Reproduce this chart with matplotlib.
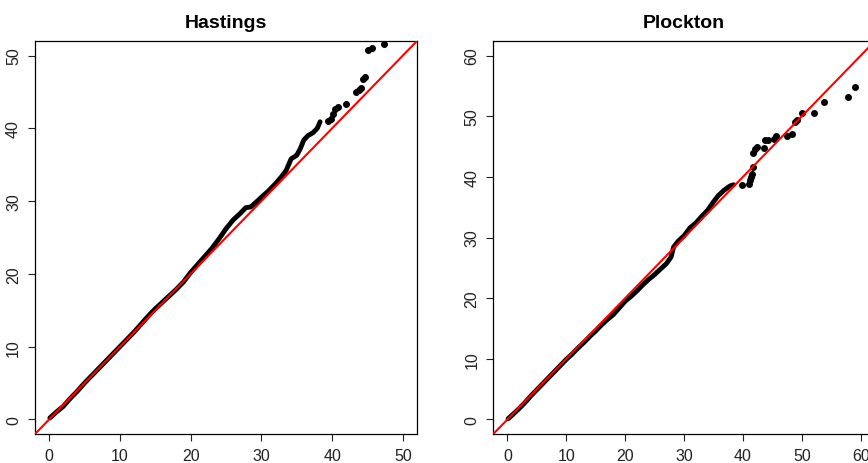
import matplotlib
matplotlib.use('Agg')
import matplotlib.pyplot as plt

plt.rcParams['font.family'] = ['Liberation Sans', 'DejaVu Sans']

#############################################################
# Quantile pairs (dense body of each plot, then the sparse upper tail)
#############################################################
hast_x = [0.1, 1, 2, 3, 4, 5, 6, 7, 8, 9, 10, 11, 12, 13, 14, 15, 16, 17, 18, 19,
          20, 21, 22, 23, 24, 25, 26, 27, 27.8, 28.5, 29.2, 30.2, 31, 32, 32.8,
          33.5, 34.2, 35.0, 35.5, 36.0, 36.6, 37.3, 37.9, 38.3]
hast_y = [0.2, 1.0, 1.8, 2.9, 3.9, 5.0, 6.0, 7.0, 8.0, 9.0, 10.0, 11.0, 12.0, 13.1,
          14.2, 15.2, 16.1, 17.0, 17.9, 18.9, 20.2, 21.3, 22.4, 23.5, 24.8, 26.2,
          27.4, 28.3, 29.1, 29.2, 29.8, 30.7, 31.4, 32.4, 33.3, 34.2, 35.8, 36.3,
          37.2, 38.4, 39.0, 39.4, 40.0, 40.9]
hast_tail_x = [39.4, 39.8, 40.1, 40.4, 40.8, 42.0, 43.4, 43.8, 44.1, 44.4, 44.6,
               45.1, 45.7, 47.3]
hast_tail_y = [41.0, 41.3, 42.0, 42.7, 43.0, 43.3, 45.0, 45.3, 45.6, 46.8, 47.1,
               50.7, 51.0, 51.6]

plock_x = [0.1, 1, 2, 3, 4, 5, 6, 7, 8, 9, 10, 11, 12, 13, 14, 15, 16, 17, 18, 19,
           20, 21, 22, 23, 24, 25, 26, 27, 27.8, 28.2, 29.0, 30.0, 31, 32, 33, 34,
           35, 35.8, 36.8, 37.8, 38.4]
plock_y = [0.1, 0.9, 1.8, 2.8, 3.9, 4.9, 5.9, 6.9, 7.9, 8.9, 9.9, 10.8, 11.8, 12.7,
           13.7, 14.6, 15.6, 16.5, 17.3, 18.4, 19.5, 20.3, 21.2, 22.2, 23.1, 23.9,
           24.8, 25.7, 26.8, 28.4, 29.4, 30.3, 31.6, 32.4, 33.5, 34.5, 35.9, 36.9,
           37.8, 38.5, 38.7]
plock_tail_x = [39.8, 41.0, 41.2, 41.4, 41.6, 41.7, 41.7, 42.0, 42.3, 43.5, 43.8,
                44.3, 45.3, 45.6, 47.4, 48.3, 48.8, 49.2, 50.0, 52.1, 53.7, 57.9, 59.0]
plock_tail_y = [38.7, 38.9, 39.4, 40.0, 40.5, 41.6, 44.0, 44.6, 44.9, 44.8, 46.0,
                46.0, 46.3, 46.8, 46.8, 47.1, 49.0, 49.4, 50.6, 50.6, 52.3, 53.1, 54.8]

titles = ['Hastings', 'Plockton']
ticks = [[0, 10, 20, 30, 40, 50], [0, 10, 20, 30, 40, 50, 60]]
limits = [(-2.0, 52.0), (-2.4, 62.4)]

#############################################################
# Plotting
#############################################################
fig = plt.figure(figsize=(8.68, 4.64), dpi=100)
ax1 = fig.add_axes([35/868, 1-435/464, 382/868, 393/464])
ax2 = fig.add_axes([493.3/868, 1-435/464, 381.6/868, 393/464])

data = [(hast_x, hast_y, hast_tail_x, hast_tail_y),
        (plock_x, plock_y, plock_tail_x, plock_tail_y)]

for ax, (bx, by, tx, ty), title, tk, lim in zip([ax1, ax2], data, titles, ticks, limits):
    ax.plot(bx, by, color='black', lw=3.5, solid_capstyle='round', solid_joinstyle='round', zorder=2)
    ax.plot(tx, ty, 'o', color='black', ms=4, zorder=2)
    ax.plot(lim, lim, color='red', lw=1.5, zorder=3)
    ax.set_xlim(lim)
    ax.set_ylim(lim)
    ax.set_xticks(tk)
    ax.set_yticks(tk)
    ax.tick_params(direction='out', length=5, width=0.8, labelsize=11.5, pad=5, colors='#222222')
    for lab in ax.get_yticklabels():
        lab.set_rotation(90)
        lab.set_va('center')
    for sp in ax.spines.values():
        sp.set_linewidth(0.9)
    ax.set_title(title, fontsize=14, fontweight='bold', pad=10)

fig.savefig('out.png', dpi=100)
plt.close(fig)
